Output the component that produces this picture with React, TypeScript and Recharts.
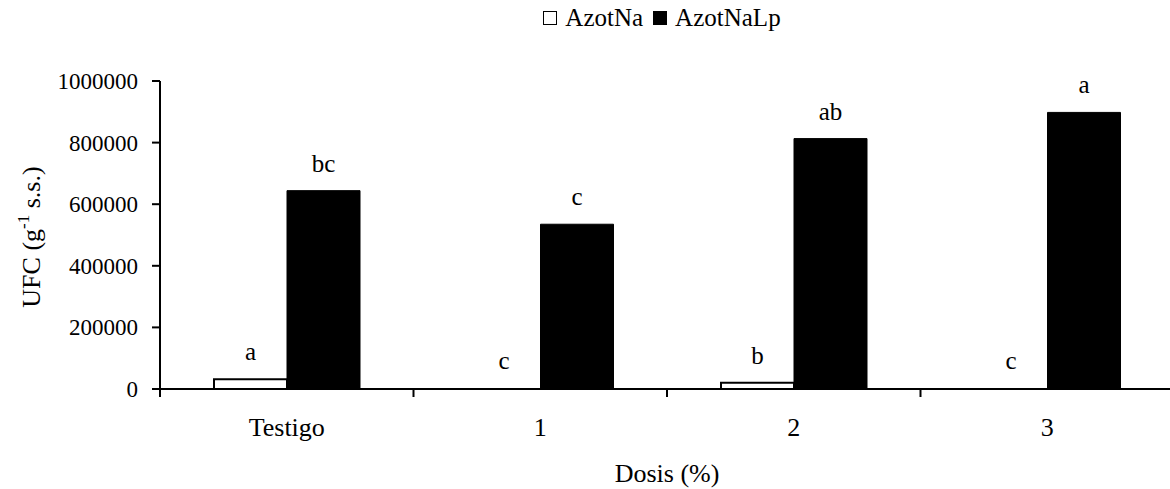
import React from "react";
import { Bar, BarChart, LabelList, Rectangle, XAxis, YAxis } from "recharts";

const categories = ["Testigo", "1", "2", "3"];
const azotNa = [32000, 0, 20000, 0];
const azotNaLp = [644000, 535000, 813000, 898000];
const lettersNa = ["a", "c", "b", "c"];
const lettersLp = ["bc", "c", "ab", "a"];
const yTicks = [0, 200000, 400000, 600000, 800000, 1000000];

const FONT = "'Liberation Serif', 'Times New Roman', serif";
const CHART_W = 1190;
const CHART_H = 489;
const Y_W = 160;
const RIGHT = 16;
const PLOT_W = CHART_W - Y_W - RIGHT;
const BAND = PLOT_W / categories.length;

const data = categories.map((name, i) => ({
  name,
  azotNa: azotNa[i],
  azotNaLp: azotNaLp[i],
  letterNa: lettersNa[i],
  letterLp: lettersLp[i],
}));

function CategoryTick(props: any) {
  const { x, y, payload, index } = props;
  const axisY = y - 8;
  const left = x - BAND / 2;
  return (
    <g>
      <line x1={left} x2={left} y1={axisY} y2={axisY + 8} stroke="#000" strokeWidth={2} />
      {index === categories.length - 1 && (
        <line x1={x + BAND / 2} x2={x + BAND / 2} y1={axisY} y2={axisY + 8} stroke="#000" strokeWidth={2} />
      )}
      <text x={x} y={y} dy={39} textAnchor="middle" fill="#000" fontSize={26} style={{ fontFamily: FONT }}>
        {payload.value}
      </text>
    </g>
  );
}

function YTick(props: any) {
  const { x, y, payload } = props;
  return (
    <text x={x} y={y} dy={8} textAnchor="end" fill="#000" fontSize={23} style={{ fontFamily: FONT }}>
      {payload.value}
    </text>
  );
}

function XTitle(props: any) {
  const vb = props.viewBox || { x: Y_W, y: 389, width: PLOT_W };
  return (
    <text
      x={vb.x + vb.width / 2}
      y={vb.y + 93}
      textAnchor="middle"
      fill="#000"
      fontSize={26}
      style={{ fontFamily: FONT }}
    >
      Dosis (%)
    </text>
  );
}

function YTitle() {
  return (
    <text
      transform="translate(40, 237) rotate(-90)"
      textAnchor="middle"
      fill="#000"
      fontSize={26}
      style={{ fontFamily: FONT }}
    >
      UFC (g
      <tspan dy={-11} fontSize={17}>-1</tspan>
      <tspan dy={11}> s.s.)</tspan>
    </text>
  );
}

// zero values keep their letter label but draw no rectangle
function NaShape(props: any) {
  if (!props.payload || props.payload.azotNa === 0) return <g />;
  return <Rectangle {...props} />;
}

function LegendBox() {
  const item = (fill: string, label: string) => (
    <span style={{ display: "inline-flex", alignItems: "center", marginRight: 10 }}>
      <span
        style={{
          display: "inline-block",
          width: 12,
          height: 12,
          background: fill,
          border: "1.5px solid #000",
          marginRight: 8,
        }}
      />
      <span>{label}</span>
    </span>
  );
  return (
    <div
      style={{
        position: "absolute",
        left: Y_W,
        top: 4,
        width: PLOT_W,
        display: "flex",
        justifyContent: "center",
        fontFamily: FONT,
        fontSize: 25,
        lineHeight: "28px",
        color: "#000",
      }}
    >
      {item("#fff", "AzotNa")}
      {item("#000", "AzotNaLp")}
    </div>
  );
}

export default function App() {
  return (
    <div
      style={{
        position: "absolute",
        left: 0,
        top: 0,
        width: 1170,
        height: 489,
        overflow: "hidden",
        background: "#fff",
      }}
    >
      <BarChart
        width={CHART_W}
        height={CHART_H}
        data={data}
        margin={{ top: 81, right: RIGHT, bottom: 0, left: 0 }}
        barCategoryGap={54}
        barGap={0}
      >
        <XAxis
          dataKey="name"
          height={100}
          stroke="#000"
          strokeWidth={2}
          tickLine={false}
          tickSize={8}
          tickMargin={0}
          tick={<CategoryTick />}
          interval={0}
          label={<XTitle />}
        />
        <YAxis
          width={Y_W}
          domain={[0, 1000000]}
          ticks={yTicks}
          interval={0}
          stroke="#000"
          strokeWidth={2}
          tickSize={8}
          tickMargin={14}
          tick={<YTick />}
          label={<YTitle />}
        />
        <Bar
          dataKey="azotNa"
          fill="#fff"
          stroke="#000"
          strokeWidth={2}
          minPointSize={1}
          shape={<NaShape />}
          isAnimationActive={false}
        >
          <LabelList dataKey="letterNa" position="top" offset={19} fill="#000" fontSize={25} style={{ fontFamily: FONT }} />
        </Bar>
        <Bar dataKey="azotNaLp" fill="#000" stroke="#000" strokeWidth={1} isAnimationActive={false}>
          <LabelList dataKey="letterLp" position="top" offset={19} fill="#000" fontSize={25} style={{ fontFamily: FONT }} />
        </Bar>
      </BarChart>
      <LegendBox />
    </div>
  );
}
